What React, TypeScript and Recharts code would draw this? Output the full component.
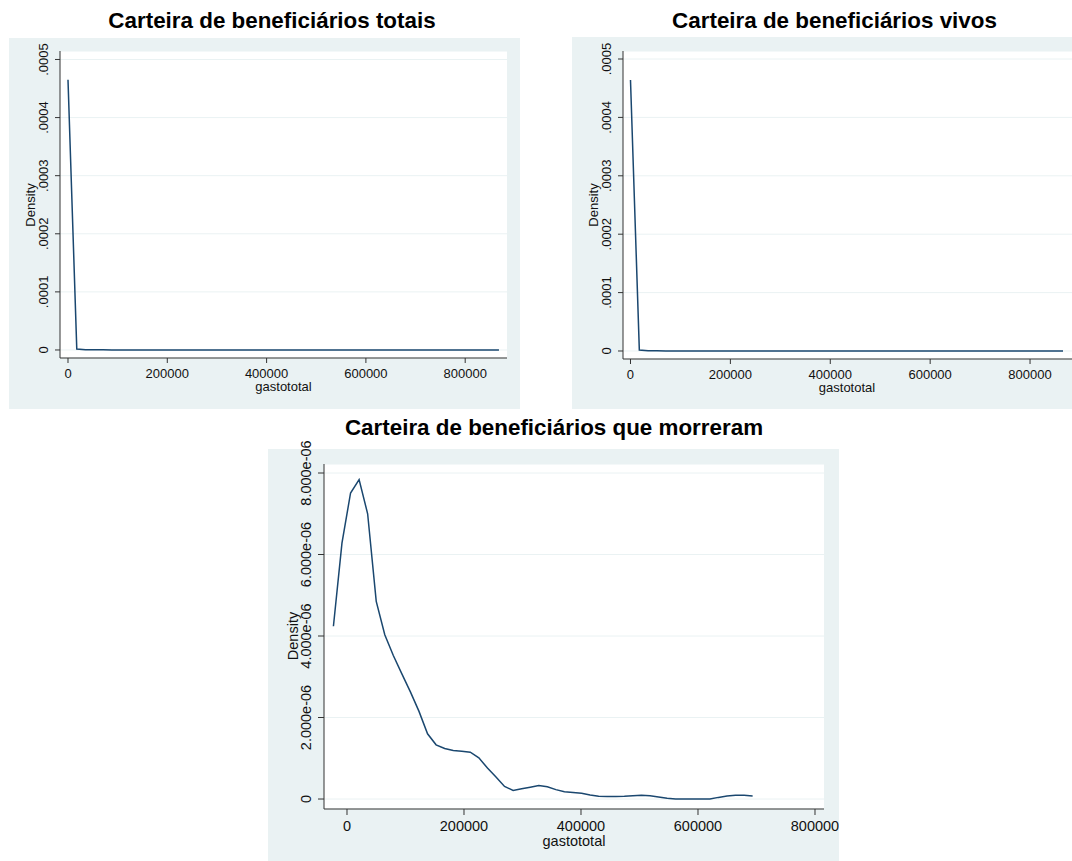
import { LineChart, Line, XAxis, YAxis, CartesianGrid } from 'recharts'

const BG = '#eaf2f3'
const LINE = '#1a476f'
const AXIS = '#333333'
const FONT = '"Liberation Sans", Arial, Helvetica, sans-serif'
const PAD = 30 // room above the plot for rotated tick labels

// kdensity gastototal, carteira total
const totaisX = [
  0, 17700, 35300, 53000, 70700, 88400, 106000, 123700, 141400, 159100,
  176700, 194400, 212100, 229700, 247400, 265100, 282800, 300400, 318100, 335800,
  353500, 371100, 388800, 406500, 424200, 441800, 459500, 477200, 494800, 512500,
  530200, 547900, 565500, 583200, 600900, 618600, 636200, 653900, 671600, 689300,
  706900, 724600, 742300, 759900, 777600, 795300, 813000, 830600, 848300, 868000,
]
const totaisY = [
  0.000465, 0.0000017, 0.0000006, 0.0000003, 0.0000002, 0.00000012, 0.00000009, 0.00000007, 0.00000005, 0.00000004,
  0.00000003, 0.00000003, 0.00000002, 0.00000002, 0.00000002, 0.00000001, 0.00000001, 0.00000001, 0.00000001, 0.00000001,
  0.00000001, 0.00000001, 0.00000001, 0.00000001, 0.00000001, 0, 0, 0, 0, 0,
  0, 0, 0, 0, 0, 0, 0, 0, 0, 0,
  0, 0, 0, 0, 0, 0, 0, 0, 0, 0,
]

// carteira de vivos
const vivosX = [
  0, 17700, 35300, 53000, 70700, 88400, 106000, 123700, 141400, 159100,
  176700, 194400, 212100, 229700, 247400, 265100, 282800, 300400, 318100, 335800,
  353500, 371100, 388800, 406500, 424200, 441800, 459500, 477200, 494800, 512500,
  530200, 547900, 565500, 583200, 600900, 618600, 636200, 653900, 671600, 689300,
  706900, 724600, 742300, 759900, 777600, 795300, 813000, 830600, 848300, 866000,
]
const vivosY = [
  0.000464, 0.0000016, 0.0000006, 0.0000003, 0.0000002, 0.00000012, 0.00000009, 0.00000007, 0.00000005, 0.00000004,
  0.00000003, 0.00000003, 0.00000002, 0.00000002, 0.00000002, 0.00000001, 0.00000001, 0.00000001, 0.00000001, 0.00000001,
  0.00000001, 0.00000001, 0.00000001, 0.00000001, 0.00000001, 0, 0, 0, 0, 0,
  0, 0, 0, 0, 0, 0, 0, 0, 0, 0,
  0, 0, 0, 0, 0, 0, 0, 0, 0, 0,
]

// carteira dos que morreram
const mortosX = [
  -23200, -8600, 6100, 20700, 35300, 50000, 64600, 79200, 93800, 108400,
  123100, 137700, 152300, 167000, 181600, 196200, 210800, 225400, 240100, 254700,
  269300, 284000, 298600, 313200, 327800, 342500, 357100, 371700, 386400, 401000,
  415600, 430200, 444800, 459500, 474100, 488700, 503300, 518000, 532600, 547200,
  561800, 576400, 591100, 605700, 620300, 634900, 649600, 664200, 678800, 693400,
]
const mortosY = [
  4.24e-6, 6.28e-6, 7.51e-6, 7.84e-6, 7.0e-6, 4.85e-6, 4.03e-6, 3.52e-6, 3.07e-6, 2.63e-6,
  2.15e-6, 1.6e-6, 1.33e-6, 1.24e-6, 1.19e-6, 1.17e-6, 1.15e-6, 1.01e-6, 0.76e-6, 0.54e-6,
  0.31e-6, 0.21e-6, 0.25e-6, 0.29e-6, 0.33e-6, 0.3e-6, 0.23e-6, 0.18e-6, 0.16e-6, 0.14e-6,
  0.1e-6, 0.07e-6, 0.06e-6, 0.06e-6, 0.065e-6, 0.08e-6, 0.09e-6, 0.08e-6, 0.05e-6, 0.016e-6,
  0, 0, 0, 0, 0, 0.04e-6, 0.075e-6, 0.09e-6, 0.09e-6, 0.075e-6,
]

const xTicks = [0, 200000, 400000, 600000, 800000]
const yTicksTop = [0, 0.0001, 0.0002, 0.0003, 0.0004, 0.0005]
const yLabelsTop = ['0', '.0001', '.0002', '.0003', '.0004', '.0005']
const yTicksMortos = [0, 0.000002, 0.000004, 0.000006, 0.000008]
const yLabelsMortos = ['0', '2.000e-06', '4.000e-06', '6.000e-06', '8.000e-06']

type PanelProps = {
  xs: number[]
  ys: number[]
  box: { left: number; top: number; width: number; height: number }
  margin: { top: number; right: number; bottom: number; left: number }
  xDomain: [number, number]
  yDomain: [number, number]
  yTicks: number[]
  yLabels: string[]
  fontSize: number
  tickSize: number
  xLabelDy: number
}

function DensityPanel({ xs, ys, box, margin, xDomain, yDomain, yTicks, yLabels, fontSize, tickSize, xLabelDy }: PanelProps) {
  const data = xs.map((x, i) => ({ x, y: ys[i] }))

  const xTick = (p: any) => (
    <text x={p.x} y={p.y + xLabelDy} textAnchor="middle" fontSize={fontSize} fontFamily={FONT} fill="#111">
      {p.payload.value}
    </text>
  )
  const yTick = (p: any) => {
    const i = yTicks.indexOf(p.payload.value)
    return (
      <text
        transform={`translate(${p.x - 7},${p.y}) rotate(-90)`}
        textAnchor="middle"
        fontSize={fontSize}
        fontFamily={FONT}
        fill="#111"
      >
        {yLabels[i]}
      </text>
    )
  }

  return (
    <>
      <div style={{ position: 'absolute', left: box.left, top: box.top, width: box.width, height: box.height, background: BG }} />
      <div style={{ position: 'absolute', left: box.left, top: box.top - PAD, width: box.width, height: box.height + PAD }}>
        <LineChart
          width={box.width}
          height={box.height + PAD}
          data={data}
          margin={{ top: margin.top + PAD, right: margin.right, bottom: 0, left: 0 }}
        >
          <CartesianGrid vertical={false} stroke={BG} fill="#ffffff" />
          <XAxis
            type="number"
            dataKey="x"
            domain={xDomain}
            allowDataOverflow
            ticks={xTicks}
            interval={0}
            height={margin.bottom}
            tickSize={tickSize}
            tickMargin={0}
            stroke={AXIS}
            tick={xTick}
          />
          <YAxis
            type="number"
            domain={yDomain}
            allowDataOverflow
            ticks={yTicks}
            interval={0}
            width={margin.left}
            tickSize={tickSize}
            tickMargin={0}
            stroke={AXIS}
            tick={yTick}
          />
          <Line type="linear" dataKey="y" stroke={LINE} strokeWidth={1.5} dot={false} isAnimationActive={false} />
        </LineChart>
      </div>
    </>
  )
}

export default function App() {
  return (
    <div style={{ position: 'absolute', left: 0, top: 0, width: 1072, height: 861, background: '#fff', overflow: 'hidden' }}>
      <DensityPanel
        xs={totaisX}
        ys={totaisY}
        box={{ left: 9, top: 38, width: 511, height: 371 }}
        margin={{ top: 13, right: 13, bottom: 51, left: 51 }}
        xDomain={[-16100, 884200]}
        yDomain={[-0.0000138, 0.0005146]}
        yTicks={yTicksTop}
        yLabels={yLabelsTop}
        fontSize={13}
        tickSize={5}
        xLabelDy={15}
      />
      <DensityPanel
        xs={vivosX}
        ys={vivosY}
        box={{ left: 572, top: 37, width: 500, height: 372 }}
        margin={{ top: 14, right: 0, bottom: 50, left: 51 }}
        xDomain={[-15000, 884000]}
        yDomain={[-0.0000137, 0.0005137]}
        yTicks={yTicksTop}
        yLabels={yLabelsTop}
        fontSize={13}
        tickSize={5}
        xLabelDy={15}
      />
      <DensityPanel
        xs={mortosX}
        ys={mortosY}
        box={{ left: 268, top: 449, width: 571, height: 412 }}
        margin={{ top: 15, right: 15, bottom: 52, left: 56 }}
        xDomain={[-39300, 815400]}
        yDomain={[-0.000000245, 0.000008221]}
        yTicks={yTicksMortos}
        yLabels={yLabelsMortos}
        fontSize={14.5}
        tickSize={6}
        xLabelDy={16}
      />
      <svg width={1072} height={861} style={{ position: 'absolute', left: 0, top: 0, pointerEvents: 'none' }} fontFamily={FONT}>
        <text x={272} y={28} textAnchor="middle" fontSize={22.4} fontWeight="bold" fill="#000">Carteira de beneficiários totais</text>
        <text x={834.5} y={28} textAnchor="middle" fontSize={22.4} fontWeight="bold" fill="#000">Carteira de beneficiários vivos</text>
        <text x={554} y={435} textAnchor="middle" fontSize={22.4} fontWeight="bold" fill="#000">Carteira de beneficiários que morreram</text>

        <text transform="translate(35,205) rotate(-90)" textAnchor="middle" fontSize={13} fill="#111">Density</text>
        <text transform="translate(598,205) rotate(-90)" textAnchor="middle" fontSize={13} fill="#111">Density</text>
        <text transform="translate(298,636) rotate(-90)" textAnchor="middle" fontSize={14.5} fill="#111">Density</text>

        <text x={283.5} y={391} textAnchor="middle" fontSize={13} fill="#111">gastototal</text>
        <text x={847} y={392} textAnchor="middle" fontSize={13} fill="#111">gastototal</text>
        <text x={574} y={846} textAnchor="middle" fontSize={14.5} fill="#111">gastototal</text>
      </svg>
    </div>
  )
}
